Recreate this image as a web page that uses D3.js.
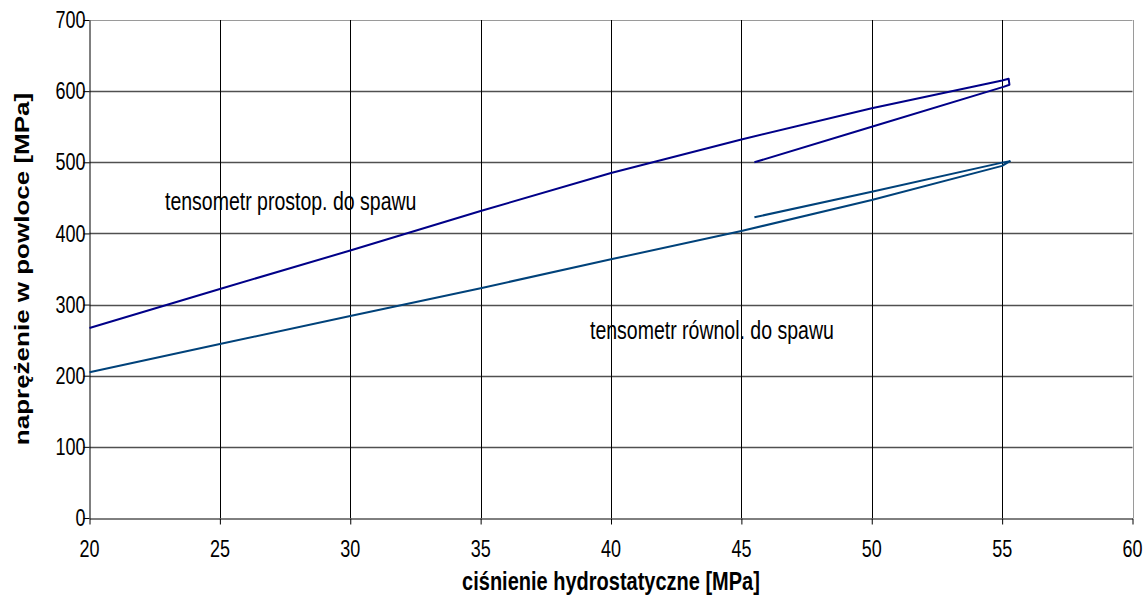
<!DOCTYPE html>
<html>
<head>
<meta charset="utf-8">
<script src="https://cdn.jsdelivr.net/npm/d3@7"></script>
<style>
  html, body { margin: 0; padding: 0; background: #fff; }
  svg { display: block; font-family: "Liberation Sans", Arial, sans-serif; }
</style>
</head>
<body>
<svg id="chart" width="1147" height="596"></svg>
<script>
// ---- data ----
const xTicks = [20, 25, 30, 35, 40, 45, 50, 55, 60];
const yTicks = [0, 100, 200, 300, 400, 500, 600, 700];

// tensometr prostopadły do spawu (loading then unloading)
const prostopX = [20, 25, 30, 35, 40, 45, 50, 55, 55.25, 55.28, 55.05, 50, 45.5];
const prostopY = [267, 322, 376, 431.5, 485, 532, 576, 615, 617.5, 609, 606, 550, 500];

// tensometr równoległy do spawu (loading then unloading)
const rownolX = [20, 25, 30, 35, 40, 45, 50, 55, 55.3, 55.0, 50, 45.5];
const rownolY = [205, 244.6, 284, 323, 363.6, 403.4, 447, 495, 501.5, 499.5, 458.7, 422.7];

const xTitle = "ciśnienie hydrostatyczne [MPa]";
const yTitle = "naprężenie w powloce [MPa]";
const label1 = "tensometr prostop. do spawu";
const label2 = "tensometr równol. do spawu";

// ---- drawing ----
const SY = 1.3; // vertical glyph stretch seen in the reference
const svg = d3.select("#chart");
const x = d3.scaleLinear().domain([20, 60]).range([89.5, 1132.5]);
const y = d3.scaleLinear().domain([0, 700]).range([518, 20]);

function stretchedText(px, py, str, size, opts = {}) {
  const t = svg.append("text")
    .attr("transform", `translate(${px},${py}) scale(1,${SY})` + (opts.rotate ? ` rotate(${opts.rotate})` : ""))
    .attr("dy", "0.35em")
    .attr("font-size", size)
    .attr("fill", "#000")
    .attr("text-anchor", opts.anchor || "start")
    .text(str);
  if (opts.bold) t.attr("font-weight", "bold");
  return t;
}

// annotation labels (drawn beneath the grid, as in the reference)
stretchedText(165, 201, label1, 19.5);
stretchedText(590, 330, label2, 19.5);

// horizontal grid
svg.append("g").selectAll("line").data(yTicks.filter(d => d > 0))
  .join("line")
  .attr("x1", x(20)).attr("x2", x(60))
  .attr("y1", d => Math.round(y(d)) + 0.5).attr("y2", d => Math.round(y(d)) + 0.5)
  .attr("stroke", d => d === 700 ? "#9a9a9a" : "#505050")
  .attr("stroke-width", d => d === 700 ? 1 : 1.4);

// vertical grid
svg.append("g").selectAll("line").data(xTicks.filter(d => d > 20))
  .join("line")
  .attr("x1", d => Math.round(x(d)) + 0.5).attr("x2", d => Math.round(x(d)) + 0.5)
  .attr("y1", y(700)).attr("y2", y(0))
  .attr("stroke", d => d === 60 ? "#9a9a9a" : "#000")
  .attr("stroke-width", 1);

// axes (lines and ticks via d3 axes, labels stretched to match)
const xAxis = d3.axisBottom(x).tickValues(xTicks).tickSize(6).tickSizeOuter(0).tickFormat("");
const yAxis = d3.axisLeft(y).tickValues(yTicks).tickSize(6).tickSizeOuter(0).tickFormat("");

const gx = svg.append("g").attr("transform", `translate(0,${Math.round(y(0)) + 0.5})`).call(xAxis);
const gy = svg.append("g").attr("transform", `translate(${x(20)},0)`).call(yAxis);
[gx, gy].forEach(g => {
  g.select(".domain").attr("stroke", "#000").attr("stroke-width", 1);
  g.selectAll(".tick line").attr("stroke", "#000");
});

xTicks.forEach(v => stretchedText(x(v), 549, String(v), 18, { anchor: "middle" }));
yTicks.forEach(v => stretchedText(x(20) - 4, y(v), String(v), 18, { anchor: "end" }));

// axis titles
stretchedText(611, 581, xTitle, 20, { anchor: "middle", bold: true });
stretchedText(22, 269, yTitle, 20, { anchor: "middle", bold: true, rotate: -90 });

// series lines
const line = d3.line().x(d => x(d[0])).y(d => y(d[1]));
svg.append("path").datum(d3.zip(rownolX, rownolY))
  .attr("fill", "none").attr("stroke", "#00427a").attr("stroke-width", 2)
  .attr("stroke-linejoin", "round").attr("d", line);
svg.append("path").datum(d3.zip(prostopX, prostopY))
  .attr("fill", "none").attr("stroke", "#000088").attr("stroke-width", 2)
  .attr("stroke-linejoin", "round").attr("d", line);
</script>
</body>
</html>
